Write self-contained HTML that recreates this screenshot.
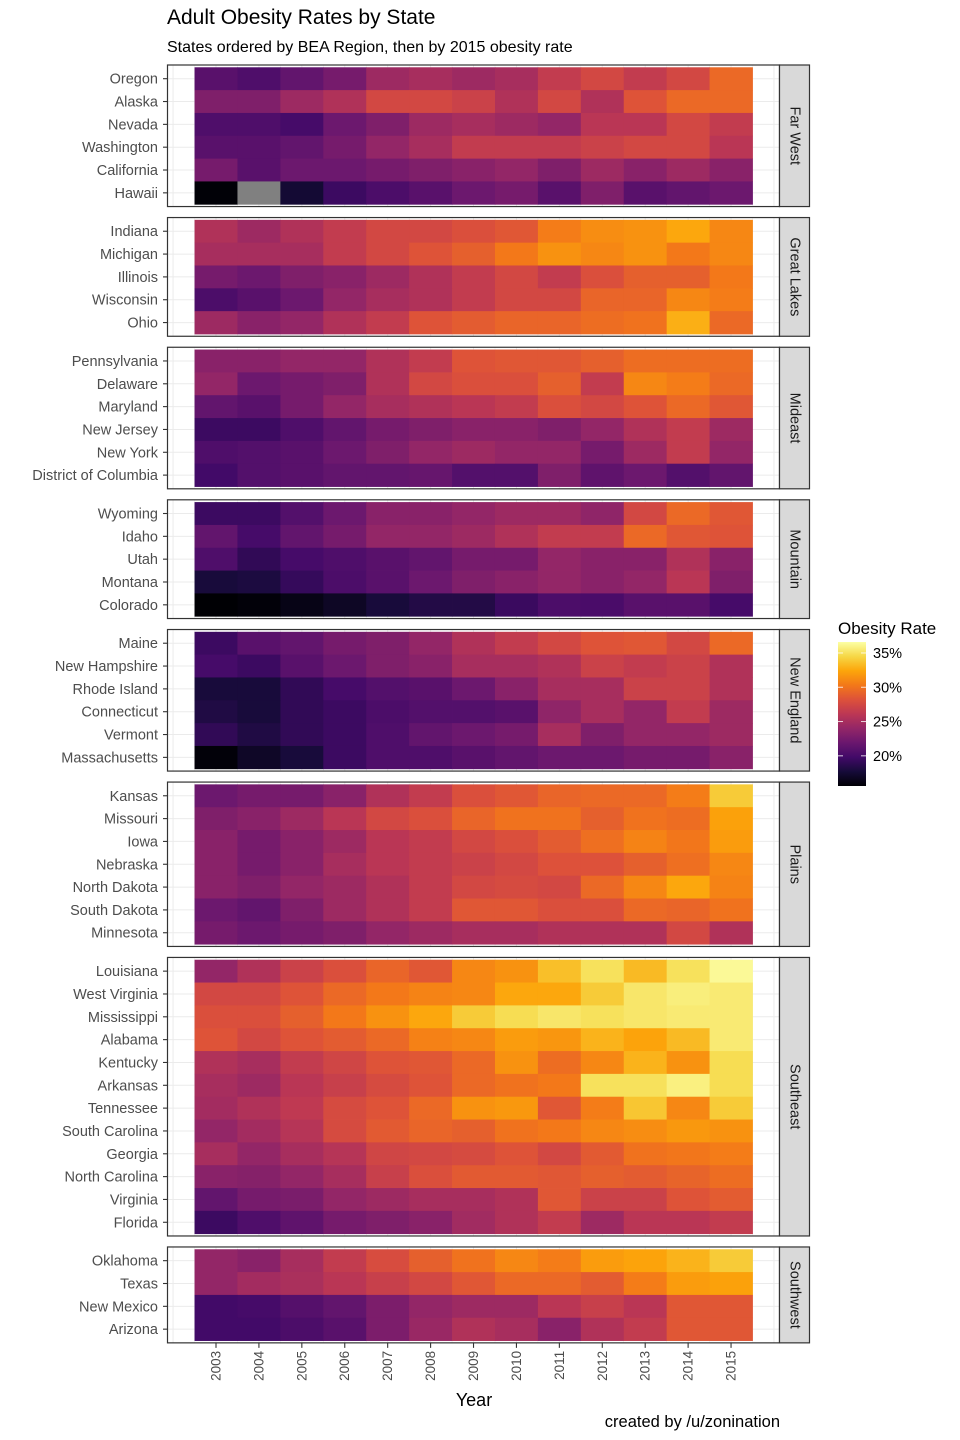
<!DOCTYPE html>
<html><head><meta charset="utf-8">
<style>
body{margin:0;background:#fff;}
svg{display:block;font-family:"Liberation Sans",Arial,sans-serif;}
</style></head>
<body>
<svg id="chart" width="960" height="1440" viewBox="0 0 960 1440">
<text x="167" y="24" font-size="21" fill="#000">Adult Obesity Rates by State</text>
<text x="167" y="52" font-size="16" fill="#000">States ordered by BEA Region, then by 2015 obesity rate</text>
<text x="474" y="1406" font-size="18" text-anchor="middle" fill="#000">Year</text>
<text x="780" y="1427" font-size="16.5" text-anchor="end" fill="#000">created by /u/zonination</text>
<text x="838" y="634" font-size="17" fill="#000">Obesity Rate</text>
<g id="plot"></g>
</svg>
<script>
const years = [2003,2004,2005,2006,2007,2008,2009,2010,2011,2012,2013,2014,2015];
const regionNames = ["Far West","Great Lakes","Mideast","Mountain","New England","Plains","Southeast","Southwest"];
const regionSizes = [6,5,6,5,6,7,12,4];
const states = ["Oregon","Alaska","Nevada","Washington","California","Hawaii",
"Indiana","Michigan","Illinois","Wisconsin","Ohio",
"Pennsylvania","Delaware","Maryland","New Jersey","New York","District of Columbia",
"Wyoming","Idaho","Utah","Montana","Colorado",
"Maine","New Hampshire","Rhode Island","Connecticut","Vermont","Massachusetts",
"Kansas","Missouri","Iowa","Nebraska","North Dakota","South Dakota","Minnesota",
"Louisiana","West Virginia","Mississippi","Alabama","Kentucky","Arkansas","Tennessee","South Carolina","Georgia","North Carolina","Virginia","Florida",
"Oklahoma","Texas","New Mexico","Arizona"];
const rates = [
[21,20.5,21.5,22.5,24.5,25,24.5,25,26.5,27.5,26.5,27.5,29.5],
[23,23,24.5,25.5,27.5,27.5,27,25.5,27.5,25.5,28.3,29.5,29.5],
[20.5,20.5,20,22,23,24.5,25,24.5,24,26,26,27.5,26.5],
[21,21,21.5,22.5,24,25,26.5,26.5,26.5,27,27.5,27.5,26],
[22.5,21,22,22,22.5,23,23.5,24,23,24.5,23.5,24.5,23.5],
[15.7,null,17.5,19.5,20.3,21,22,22.5,21,23,21,21.5,22],
[25.5,24.5,25.5,26.5,27.5,27.5,28,28.5,30.5,31.3,31.5,32.5,31],
[25,25,25,26.5,27.5,28.3,29,30.3,31.5,31,31.5,30.3,31],
[22.5,22,23,23.5,24.5,25.5,26.5,27.5,26.5,28,29,29,30.3],
[20.3,21,22,24,25,25.5,26.5,27.5,27.5,29.3,29.3,31,30.5],
[24.5,23.5,24,25.5,26.5,28.3,28.8,29.3,29.3,29.7,30,32.8,29.5],
[23.5,23.5,24,24,25.5,26.5,28.3,28.5,28.5,29,29.7,29.7,29.7],
[24,22,22.5,23,25.5,27.5,28,28,29,26.5,31,30.5,29.5],
[21.5,21,22.5,24,25,25.5,26,26.5,28,27.5,28.3,29.5,28.5],
[19.5,19.5,20.5,21.5,22.5,23,23.5,23.5,23,24,25.5,26.5,24.5],
[20.5,20.7,21,22,23,24,24.5,24,24,22.5,24.5,26.5,24],
[19.8,20.7,21,21.5,21.5,21.7,20.7,20.7,23,21.3,22,20.7,21.5],
[19.5,19.5,20.7,22,23.5,23.5,24,24.5,24.5,23.8,27.5,29.5,28.5],
[21.5,20,21.5,22.5,24,24,24.5,25.5,26.5,26.5,29.5,28.5,28.3],
[20.5,19,20,20.5,21,21.5,22.5,22.5,24,23.5,23.5,25.5,23.5],
[17.8,18,19.2,20.3,21,22,23,23.5,24,23.5,24,26,23],
[15.6,15.8,16.3,16.9,17.8,18.3,18.3,19.4,20.3,20.2,21,21,20],
[19.5,21,21.5,22.5,23,24,25.5,26.5,27.5,28.3,28.5,27.5,29.5],
[20,19.5,21,22,23,23.5,25,25,25.5,27,26.5,27,25.5],
[17.8,17.8,19,20,20.7,21,22,23.5,25,25,27,27,25.5],
[18.2,17.8,19,19.5,20.3,20.7,20.7,21,23.8,25,24,26.5,24.5],
[19,18.2,19,19.5,20.5,21.5,22,22.5,25,23,24,24,24.5],
[15.8,17,17.8,19.5,20.5,20.5,21,21.5,22,22,22.5,22.5,23.5],
[22,22.5,22.5,23.5,25.5,26.5,28,28.5,29.3,29.5,29.5,30.5,34],
[23,23.5,24.5,26,27.5,28,29.3,30,30,29,30,29.7,32.2],
[23.5,22.5,23.5,24.5,26,26.5,27.5,28,28.8,29.8,30.8,30.2,32],
[23.5,22.5,23.5,25,26,26.5,27,27.5,28.2,28.2,29,29.8,31],
[23.5,23,24,24.5,25.5,26.5,27.5,27.7,27.5,29.5,31,32.5,30.8],
[22,21.5,23,24.5,25.5,26.5,28.5,28.5,28,28,29.5,29.3,30],
[22.5,22,22.5,23,24,24.5,25,25,25.5,25.5,25.5,27.5,25.5],
[24,25.5,27,28,29.3,28.5,31,31.5,33.5,35,33.3,35,36.3],
[27.5,27.5,28.3,29.5,30.3,30.8,31,32.5,32.5,34,35.3,35.7,35.5],
[28,28,29,30.3,31.5,32.5,34,34.8,35.3,35,35.3,35.5,35.5],
[28.3,27.5,28.3,28.8,29.5,30.7,31,32,31.7,33,32.3,33.3,35.5],
[25.5,25,26.5,27.3,28.3,28.5,29.5,31.5,29.7,31,33,31.5,34.8],
[25,24.5,26,26.8,27.7,28.3,29.5,30,30.3,35,35,35.8,34.8],
[24.8,25.5,26.3,27.7,28.3,29.5,31.5,31.8,28.5,30.5,33.8,31,34],
[24,24.8,25.8,27.7,28.7,29.3,29,30,30.3,31,31.3,31.8,31.5],
[25,24,25,25.8,27.3,27.5,27.7,28.3,27.5,28.7,30,30.2,30.5],
[23.5,23.3,24,25,26.8,28,28.7,28.7,28.5,29,28.8,29.2,29.7],
[21.5,22.5,22.7,24,24.5,25,25,25.5,28.5,27,27,28.3,28.8],
[19.5,20.5,21.3,22.5,23,23.5,24.7,25.5,26.5,24.5,26,26,26.5],
[24,23.5,25,26.5,27.8,29,30,31,30.5,32,32.3,33,34],
[24,24.8,25.2,26,26.8,27.5,28.5,29.5,29.5,28.8,30.5,32,32.2],
[19.8,20,20.8,21.5,22.8,24,24.5,24.5,26,26.8,26,28.5,28.5],
[19.8,19.8,20.3,21,22.8,24.3,25.5,25,23.5,25.5,26.5,28.5,28.5]
];
const legendTicks = [20,25,30,35];

const NS = "http://www.w3.org/2000/svg";
const plotG = document.getElementById('plot');
const infernoStops = ["#000004","#160b39","#420a68","#6a176e","#932667","#bc3754","#dd513a","#f37819","#fca50a","#f6d746","#fcffa4"];
const vMin = 15.6, vMax = 36.6;
function hex(c){return [parseInt(c.slice(1,3),16),parseInt(c.slice(3,5),16),parseInt(c.slice(5,7),16)];}
function color(v){
  if(v===null) return "#808080";
  let t=Math.max(0,Math.min(1,(v-vMin)/(vMax-vMin)))*10;
  let i=Math.min(9,Math.floor(t)), f=t-i;
  let a=hex(infernoStops[i]), b=hex(infernoStops[i+1]);
  return "rgb("+a.map((x,k)=>Math.round(x+(b[k]-x)*f)).join(",")+")";
}
function el(tag, attrs, parent){
  const e=document.createElementNS(NS,tag);
  for(const k in attrs) e.setAttribute(k,attrs[k]);
  (parent||plotG).appendChild(e); return e;
}
const xStep = 42.92;
function xScale(y){return 216 + (y-2003)*xStep;}
const panelL = 167.5, panelR = 779.5, stripW = 30;
const unit = 22.83, gap = 11;
let panelTop = 65, si = 0;
regionNames.forEach((rn, ri)=>{
  const n = regionSizes[ri];
  const h = (n + 0.2) * unit;
  const g = el('g',{});
  
  
  el('rect',{x:panelL,y:panelTop,width:panelR-panelL,height:h,fill:"#fff"},g);
  for(let yr=2002; yr<=2016; yr+=0.5){
    const x=xScale(yr);
    if(x>panelL && x<panelR) el('line',{x1:x,x2:x,y1:panelTop,y2:panelTop+h,stroke:"#ebebeb","stroke-width":(yr%1)?0.5:1},g);
  }
  for(let j=0;j<n;j++){
    const cy = panelTop + (0.6 + j)*unit;
    el('line',{x1:panelL,x2:panelR,y1:cy,y2:cy,stroke:"#ebebeb","stroke-width":1},g);
  }
  for(let j=0;j<n;j++){
    const s = si + j;
    const cy = panelTop + (0.6 + j)*unit;
    years.forEach((yr,k)=>{
      const r = el('rect',{x:xScale(yr)-xStep/2,y:cy-unit/2,width:xStep+0.4,height:unit+0.4,fill:color(rates[s][k])},g);
      
      
    });
    const lab = el('text',{x:158,y:cy+5,"font-size":14.5,"text-anchor":"end",fill:"#4d4d4d"},g);
    lab.textContent = states[s];
    
    
    el('line',{x1:163,x2:167.5,y1:cy,y2:cy,stroke:"#333","stroke-width":1.1},g);
  }
  el('rect',{x:panelL,y:panelTop,width:panelR-panelL,height:h,fill:"none",stroke:"#333","stroke-width":1.2},g);
  const st = el('rect',{x:panelR,y:panelTop,width:stripW,height:h,fill:"#d9d9d9",stroke:"#333","stroke-width":1.2},g);
  
  
  const sx = panelR + stripW/2, sy = panelTop + h/2;
  const stx = el('text',{x:sx,y:sy,"font-size":14.5,"text-anchor":"middle","dominant-baseline":"central",fill:"#1a1a1a",transform:"rotate(90 "+sx+" "+sy+")"},g);
  stx.textContent = rn;
  
  
  si += n;
  if(ri === regionNames.length-1){
    years.forEach(yr=>{
      const x = xScale(yr);
      const yb = panelTop + h;
      el('line',{x1:x,x2:x,y1:yb,y2:yb+5,stroke:"#333","stroke-width":1.1},g);
      const t = el('text',{x:x,y:yb+8,"font-size":13.5,"text-anchor":"end","dominant-baseline":"central",fill:"#4d4d4d",transform:"rotate(-90 "+x+" "+(yb+8)+")"},g);
      t.textContent = yr;
      
      
    });
  }
  panelTop += h + gap;
});
const lg = el('g',{});


const defs = el('defs',{});
const grad = el('linearGradient',{id:"gr",x1:0,y1:1,x2:0,y2:0},defs);
infernoStops.forEach((c,i)=>el('stop',{offset:(i*10)+"%","stop-color":c},grad));
const lbT=642, lbB=786;
el('rect',{x:838,y:lbT,width:28,height:lbB-lbT,fill:"url(#gr)"},lg);
function ly(v){return lbB - (v-vMin)/(vMax-vMin)*(lbB-lbT);}
legendTicks.forEach(v=>{
  const y=ly(v);
  el('line',{x1:838,x2:843,y1:y,y2:y,stroke:"#fff","stroke-width":1,opacity:0.8},lg);
  el('line',{x1:861,x2:866,y1:y,y2:y,stroke:"#fff","stroke-width":1,opacity:0.8},lg);
  const t=el('text',{x:873,y:y+5,"font-size":14.5,fill:"#000"},lg);
  t.textContent=v+"%";
  
  
});
</script>
</body></html>
